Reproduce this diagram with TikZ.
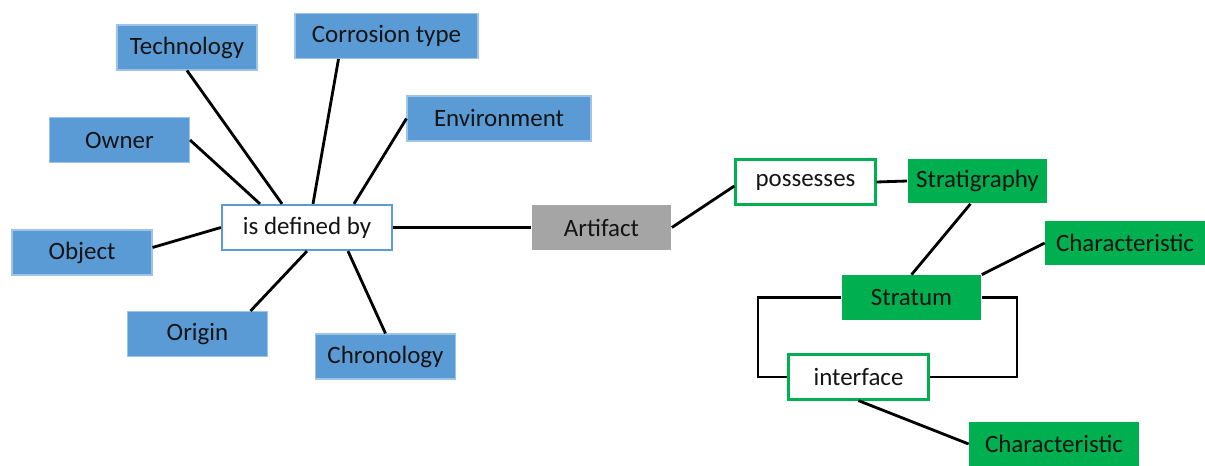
\documentclass[tikz,border=0pt]{standalone}
\usepackage{fontspec}
\setmainfont{Carlito}
\usetikzlibrary{calc}
\definecolor{boxblue}{HTML}{5B9BD5}
\definecolor{edgeblue}{HTML}{9DC3E6}
\definecolor{boxgreen}{HTML}{00B050}
\definecolor{boxgray}{HTML}{A5A5A5}
\definecolor{txt}{HTML}{141414}
\begin{document}
\begin{tikzpicture}
  [x=0.02cm,y=-0.02cm,
   every node/.style={rectangle,inner sep=0pt,minimum height=0.9cm,minimum width=2.8cm,
     text=txt,font=\fontsize{14.2}{17}\selectfont},
   bluebox/.style={fill=boxblue,draw=edgeblue,line width=0.6pt},
   greenbox/.style={fill=boxgreen},
   graybox/.style={fill=boxgray},
   linkbox/.style={fill=white,draw=boxblue,line width=1.3pt},
   greenlink/.style={fill=white,draw=boxgreen,line width=1.3pt}]
  \useasboundingbox (0,0) rectangle (1205,466);

  \node[bluebox] (tech) at (187,47.5) {Technology};
  \node[bluebox,minimum width=3.66cm] (corr) at (386.5,36) {Corrosion type};
  \node[bluebox,minimum width=3.68cm] (env) at (499,118.5) {Environment};
  \node[bluebox] (owner) at (119.5,140) {Owner};
  \node[linkbox,minimum width=3.4cm] (idb) at (307,227.5) {is defined by};
  \node[bluebox] (obj) at (82,252.5) {Object};
  \node[bluebox] (orig) at (197.5,334) {Origin};
  \node[bluebox] (chron) at (385.5,356.5) {Chronology};
  \node[graybox] (art) at (601.5,227.5) {Artifact};

  \node[greenlink] (poss) at (805.5,182) {possesses};
  \node[greenbox] (strat) at (977.5,181) {Stratigraphy};
  \node[greenbox,minimum width=3.2cm] (char1) at (1125,243) {Characteristic};
  \node[greenbox] (stratum) at (911.5,297.5) {Stratum};
  \node[greenlink] (iface) at (858.5,377) {interface};
  \node[greenbox,minimum width=3.4cm] (char2) at (1054,444) {Characteristic};

  \coordinate (loopL) at (758,297.5);
  \coordinate (loopR) at (1017,297.5);

\path[draw,line width=1.6pt]
    (tech.south) edge ($(idb.north)+(-25,0)$)
    ($(corr.south)+(-48,0)$) edge ($(idb.north)+(6,0)$)
    (env.west) edge ($(idb.north)+(47,0)$)
    (owner.east) edge ($(idb.north)+(-47,0)$)
    ($(obj.east)+(0,-5)$) edge (idb.west)
    ($(orig.north)+(53,0)$) edge (idb.south)
    (chron.north) edge ($(idb.south)+(41,0)$)
    (idb.east) edge (art.west)
    (art.east) edge ($(poss.west)+(0,4)$)
    (poss.east) edge (strat.west)
    ($(strat.south)+(-7,0)$) edge (stratum.north)
    (char1.west) edge (stratum.north east)
    (iface.south) edge (char2.west)
    ;
\draw[line width=1.6pt] (stratum.west) -- (loopL) |- (iface.west);
\draw[line width=1.6pt] (stratum.east) -- (loopR) |- (iface.east);

\end{tikzpicture}
\end{document}
